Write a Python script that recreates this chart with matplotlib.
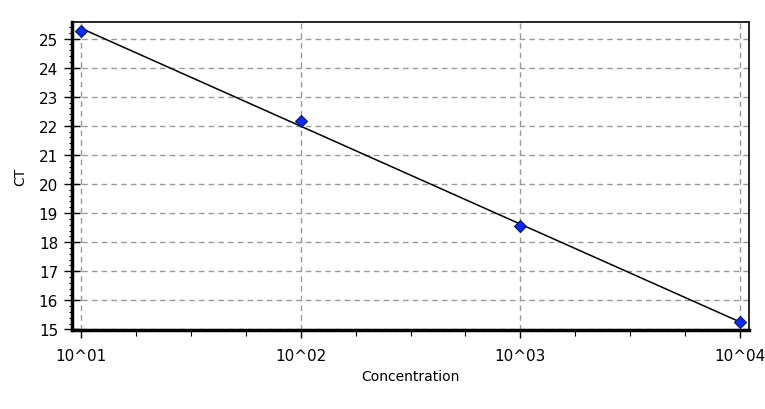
import matplotlib
matplotlib.use("Agg")
import matplotlib.pyplot as plt
from matplotlib.ticker import FixedLocator, NullFormatter, FixedFormatter
import numpy as np

# standard curve points
concentration = [10, 100, 1000, 10000]
ct = [25.27, 22.15, 18.55, 15.25]
xtick_vals = [10, 100, 1000, 10000]
xtick_labels = ["10^01", "10^02", "10^03", "10^04"]
ytick_vals = list(range(15, 26))

plt.rcParams["font.family"] = ["DejaVu Sans"]

fig = plt.figure(figsize=(7.65, 4.10), dpi=100)
ax = fig.add_axes([72 / 765, 1 - 331 / 410, (749 - 72) / 765, (331 - 23) / 410])

# regression line through the points (log10 of concentration)
logc = np.log10(concentration)
slope, icpt = np.polyfit(logc, ct, 1)
xs = np.array([concentration[0], concentration[-1]])
ax.plot(xs, slope * np.log10(xs) + icpt, color="black", lw=1.1, zorder=3)

ax.plot(concentration, ct, linestyle="none", marker="D", ms=6,
        mfc="#0a2cf0", mec="#101860", mew=0.8, zorder=4, clip_on=False)

ax.set_xscale("log")
ax.set_xlim(10 ** 0.959, 10 ** 4.041)
ax.set_ylim(14.98, 25.57)

minor_x = [10 ** (e + q) for e in range(1, 4) for q in (0.25, 0.5, 0.75)]
ax.xaxis.set_major_locator(FixedLocator(xtick_vals))
ax.xaxis.set_major_formatter(FixedFormatter(xtick_labels))
ax.xaxis.set_minor_locator(FixedLocator(minor_x))
ax.xaxis.set_minor_formatter(NullFormatter())
ax.yaxis.set_major_locator(FixedLocator(ytick_vals))
ax.yaxis.set_minor_locator(FixedLocator(np.arange(15, 25.6, 0.2)))

ax.grid(True, which="major", color="#999999", linestyle=(0, (4, 3)), lw=1)
ax.tick_params(axis="both", which="major", labelsize=11)
ax.tick_params(axis="y", which="major", direction="inout", length=12, width=1, pad=4)
ax.tick_params(axis="y", which="minor", direction="out", length=2, width=0.8)
ax.tick_params(axis="x", which="major", direction="out", length=6, width=1, pad=7)
ax.tick_params(axis="x", which="minor", direction="out", length=4, width=0.8)
ax.tick_params(top=False, right=False, which="both")

for side in ("top", "right"):
    ax.spines[side].set_linewidth(1.2)
ax.spines["left"].set_linewidth(2.5)
ax.spines["bottom"].set_linewidth(2.5)

ax.set_xlabel("Concentration", fontsize=10, labelpad=4)
ax.set_ylabel("CT", fontsize=10, labelpad=8)

fig.savefig("out.png", dpi=100)
